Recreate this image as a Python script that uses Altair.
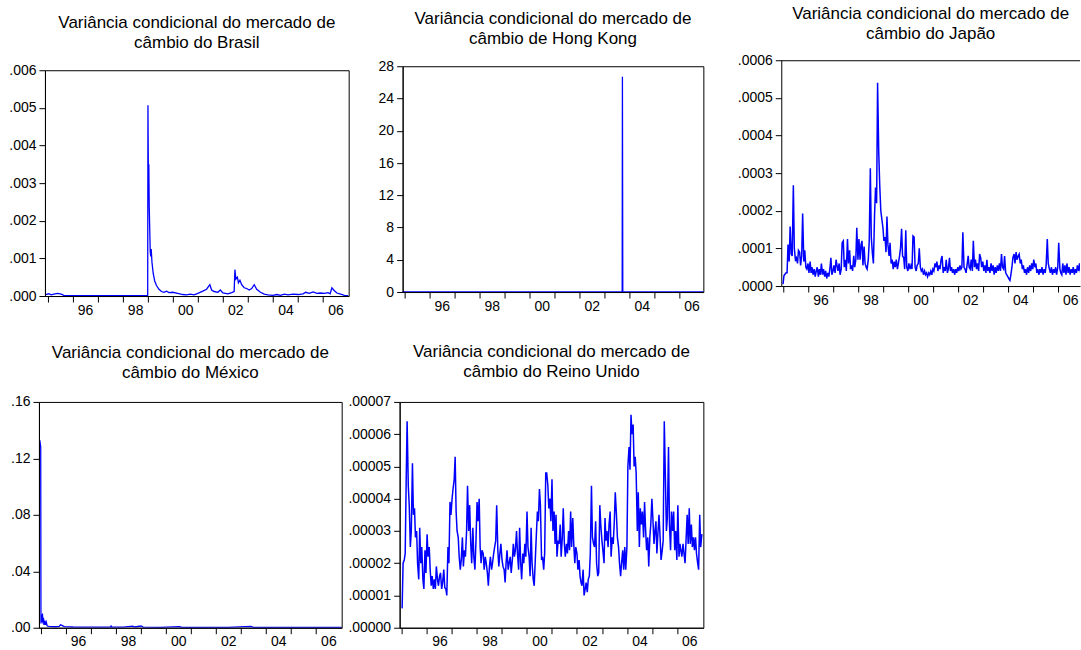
import altair as alt
import pandas as pd

FONT = "Liberation Sans"
BLUE = "#0000ff"
TITLE_HEAD = "Variância condicional do mercado de"

# ---- Brasil: irregular time points (decimal years) ----
BR_YEARS = [1994.92, 1995.05, 1995.15, 1995.25, 1995.40, 1995.55, 1995.65, 1995.80,
            1996.50, 1997.50, 1998.50, 1999.00, 1999.01, 1999.03, 1999.045, 1999.06,
            1999.08, 1999.10, 1999.12, 1999.14, 1999.17, 1999.22, 1999.28, 1999.35,
            1999.45, 1999.55, 1999.65, 1999.75, 1999.85, 2000.00, 2000.20, 2000.40,
            2000.55, 2000.70, 2000.85, 2001.00, 2001.20, 2001.35, 2001.48, 2001.55,
            2001.65, 2001.80, 2001.90, 2002.00, 2002.20, 2002.35, 2002.45, 2002.48,
            2002.52, 2002.58, 2002.62, 2002.68, 2002.75, 2002.85, 2002.95, 2003.05,
            2003.15, 2003.25, 2003.35, 2003.50, 2003.65, 2003.80, 2004.00, 2004.15,
            2004.30, 2004.45, 2004.60, 2004.80, 2005.00, 2005.20, 2005.30, 2005.45,
            2005.60, 2005.75, 2005.90, 2006.05, 2006.20, 2006.28, 2006.35, 2006.45,
            2006.55, 2006.70, 2006.85, 2007.00]
BR_VAR = [0.00004, 0.00006, 0.00003, 0.00005, 0.00007, 0.00005, 0.00002, 0.00001,
          0.00001, 0.00001, 0.00001, 0.00001, 0.00507, 0.00290, 0.00350, 0.00240,
          0.00180, 0.00120, 0.00105, 0.00125, 0.00090, 0.00060, 0.00040, 0.00028,
          0.00018, 0.00012, 0.00010, 0.00013, 0.00009, 0.00010, 0.00007, 0.00004,
          0.00003, 0.00005, 0.00003, 0.00007, 0.00013, 0.00018, 0.00030, 0.00016,
          0.00012, 0.00010, 0.00016, 0.00008, 0.00006, 0.00009, 0.00012, 0.00070,
          0.00045, 0.00050, 0.00035, 0.00042, 0.00030, 0.00022, 0.00020, 0.00016,
          0.00020, 0.00030, 0.00018, 0.00010, 0.00005, 0.00003, 0.00002, 0.00004,
          0.00002, 0.00005, 0.00003, 0.00005, 0.00004, 0.00006, 0.00010, 0.00007,
          0.00011, 0.00007, 0.00008, 0.00007, 0.00009, 0.00006, 0.00022, 0.00014,
          0.00008, 0.00005, 0.00002, 0.00001]

# ---- Hong Kong ----
HK_YEARS = [1994.93, 1996.0, 1998.0, 2000.0, 2002.0, 2003.72, 2003.73, 2003.745, 2005.0, 2006.97]
HK_VAR = [0.02, 0.01, 0.01, 0.01, 0.01, 0.01, 26.7, 0.02, 0.01, 0.01]

# ---- Japão: semi-monthly observations, Jan 1995 .. Jan 2007, in units of 1e-4 ----
JP_VAR_1E4 = [
    0.05, 0.28, 0.32, 0.35, 0.35, 1.1, 0.65, 1.58, 0.85, 0.8, 2.68, 1.0, 0.7, 0.75, 0.6, 0.95, 0.9, 0.55, 0.8, 1.93, 0.65, 0.95, 0.5, 0.45,
    0.6, 0.35, 0.65, 0.35, 0.5, 0.3, 0.45, 0.25, 0.4, 0.5, 0.25, 0.45, 0.3, 0.6, 0.3, 0.45, 0.25, 0.4, 0.2, 0.35, 0.25, 0.45, 0.75, 0.3,
    0.4, 0.55, 0.35, 0.7, 0.55, 0.4, 0.6, 0.3, 0.45, 1.15, 1.2, 0.5, 0.7, 0.4, 1.25, 0.6, 0.95, 0.45, 0.55, 0.4, 0.8, 0.5, 0.7, 1.55,
    0.7, 1.25, 0.7, 1.1, 1.2, 0.55, 1.05, 0.6, 0.5, 0.45, 0.7, 1.2, 3.13, 1.3, 0.85, 0.6, 1.9, 2.62, 2.2, 5.4, 3.55, 2.7, 2.0, 1.8,
    1.55, 1.2, 1.3, 0.9, 1.85, 1.1, 0.8, 1.15, 0.6, 0.7, 0.45, 0.65, 0.5, 0.7, 0.45, 0.6, 0.8, 1.0, 1.52, 0.8, 0.75, 0.45, 1.48, 0.5,
    0.4, 0.6, 0.45, 0.55, 0.45, 1.33, 1.3, 0.5, 0.4, 0.55, 0.6, 1.0, 0.5, 0.4, 0.45, 0.3, 0.4, 0.3, 0.35, 0.25, 0.35, 0.3, 0.4, 0.3,
    0.45, 0.4, 0.6, 0.5, 0.65, 0.4, 0.55, 0.45, 0.7, 0.8, 0.35, 0.5, 0.4, 0.7, 0.35, 0.45, 0.75, 0.4, 0.5, 0.35, 0.45, 0.3, 0.45, 0.35,
    0.5, 0.4, 0.55, 0.45, 0.5, 1.43, 0.5, 0.45, 0.35, 0.55, 0.8, 0.5, 0.45, 0.7, 0.4, 1.2, 0.5, 0.7, 0.45, 0.6, 0.4, 0.85, 0.75, 0.5,
    0.65, 0.4, 0.55, 0.35, 0.7, 0.4, 0.5, 0.35, 0.6, 0.4, 0.55, 0.3, 0.5, 0.35, 0.55, 0.4, 0.6, 0.4, 0.85, 0.5, 0.45, 0.8, 0.35, 0.3,
    0.25, 0.2, 0.15, 0.3, 0.5, 0.75, 0.85, 0.6, 0.9, 0.7, 0.8, 0.85, 0.6, 0.7, 0.45, 0.55, 0.35, 0.45, 0.3, 0.5, 0.35, 0.55, 0.4, 0.6,
    0.45, 0.7, 0.5, 0.6, 0.35, 0.45, 0.3, 0.45, 0.35, 0.5, 0.3, 0.45, 0.35, 0.55, 1.25, 0.6, 0.45, 0.35, 0.5, 0.3, 0.45, 0.35, 0.5, 0.3,
    0.5, 1.15, 0.45, 0.35, 0.3, 0.6, 0.35, 0.55, 0.3, 0.6, 0.35, 0.5, 0.3, 0.45, 0.35, 0.5, 0.3, 0.45, 0.35, 0.55, 0.4, 0.6, 0.35, 0.5,
    0.45,
]

# ---- México ----
MX_YEARS = [1994.94, 1994.98, 1995.01, 1995.02, 1995.04, 1995.06, 1995.08, 1995.10, 1995.12,
            1995.14, 1995.17, 1995.20, 1995.23, 1995.27, 1995.35, 1995.45, 1995.60, 1995.75,
            1995.80, 1995.86, 1995.95, 1996.30, 1996.80, 1997.40, 1997.80, 1997.82, 1997.85,
            1998.30, 1998.69, 1998.75, 1999.02, 1999.10, 1999.80, 2000.55, 2000.65, 2001.50,
            2002.50, 2003.41, 2003.50, 2004.50, 2005.50, 2006.50, 2007.03]
MX_VAR = [0.131, 0.132, 0.128, 0.003, 0.009, 0.004, 0.010, 0.003, 0.007,
          0.002, 0.005, 0.002, 0.004, 0.0012, 0.0010, 0.0008, 0.0007, 0.0009,
          0.0020, 0.0016, 0.0008, 0.0005, 0.0004, 0.0004, 0.0005, 0.0012, 0.0005,
          0.0004, 0.0011, 0.0005, 0.0012, 0.0004, 0.0003, 0.0008, 0.0003, 0.0003,
          0.0003, 0.0009, 0.0003, 0.0003, 0.0002, 0.0002, 0.0002]

# ---- Reino Unido: semi-monthly observations, Jan 1995 .. Jan 2007, in units of 1e-5 ----
UK_VAR_1E5 = [
    0.6, 2.0, 2.1, 2.3, 4.5, 6.4, 4.4, 3.8, 2.5, 3.0, 5.1, 3.5, 3.7, 2.8, 3.0, 2.0, 1.5, 3.1, 2.0, 2.5, 1.5, 1.2, 2.4, 1.7,
    2.9, 2.2, 2.5, 1.8, 1.3, 1.6, 1.2, 1.5, 1.2, 1.9, 1.5, 1.3, 1.6, 1.7, 1.2, 1.4, 1.8, 1.25, 1.2, 1.0, 2.5, 2.0, 3.9, 3.5,
    4.0, 4.3, 4.6, 5.3, 3.6, 3.0, 2.8, 2.2, 1.8, 2.1, 2.8, 1.9, 2.4, 2.2, 3.0, 4.4, 3.0, 3.8, 2.6, 2.0, 3.1, 2.2, 1.8, 2.6,
    3.9, 3.3, 4.0, 2.5, 2.0, 2.4, 2.3, 1.8, 2.2, 2.0, 1.7, 1.3, 1.9, 2.2, 1.8, 2.0, 2.3, 2.5, 2.7, 3.8, 2.4, 1.9, 2.3, 2.6,
    2.1, 1.9, 1.8, 1.4, 2.0, 2.4, 1.8, 2.0, 2.2, 1.7, 2.1, 2.6, 2.2, 2.4, 3.0, 2.3, 1.8, 3.1, 2.0, 1.5, 2.3, 2.0, 2.6, 2.2,
    3.6, 2.5, 2.2, 1.6, 3.1, 2.0, 1.5, 1.3, 2.1, 2.8, 3.6, 3.3, 4.3, 3.8, 2.1, 2.2, 1.8, 2.3, 4.8, 4.8, 4.4, 3.7, 4.0, 3.3,
    4.6, 3.0, 3.6, 2.6, 3.5, 2.2, 2.7, 2.6, 3.2, 2.2, 2.8, 3.7, 2.6, 2.2, 2.6, 2.3, 3.0, 2.4, 3.6, 2.5, 3.4, 2.6, 2.0, 2.5,
    2.3, 1.8, 2.1, 1.6, 1.4, 1.3, 1.8, 1.0, 1.2, 1.4, 1.1, 1.5, 1.6, 2.3, 4.4, 2.8, 2.6, 2.5, 3.3, 2.0, 1.6, 1.7, 3.8, 3.2,
    2.7, 2.4, 2.0, 3.4, 2.7, 3.0, 2.5, 3.2, 3.6, 2.2, 2.8, 2.6, 3.3, 4.2, 3.5, 2.8, 2.5, 2.0, 1.6, 2.0, 2.4, 1.8, 2.5, 1.8,
    2.5, 5.0, 5.6, 4.9, 6.6, 6.0, 6.3, 5.0, 5.3, 4.8, 3.0, 4.2, 2.5, 3.7, 3.2, 3.6, 2.8, 3.9, 3.0, 2.4, 2.8, 1.9, 2.8, 3.2,
    4.0, 3.4, 2.6, 3.0, 3.3, 2.3, 3.0, 3.5, 2.8, 2.1, 2.4, 2.7, 6.4, 4.9, 3.0, 3.4, 5.6, 3.2, 2.4, 3.6, 3.0, 3.6, 2.4, 3.0,
    2.1, 3.8, 2.2, 2.6, 2.4, 2.2, 2.6, 2.3, 2.0, 2.7, 3.5, 2.6, 3.7, 2.6, 3.2, 2.5, 2.8, 2.4, 2.8, 2.3, 2.0, 1.8, 3.5, 2.5,
    2.9,
]

YEAR_TICKS = list(range(1995, 2007))


def semi_monthly_years(n):
    dates = pd.date_range("1995-01-01", periods=n, freq="SMS")
    return (dates.year + (dates.dayofyear - 1) / 365.25).tolist()


def panel(years, values, country, x_domain, y_values, y_fmt, box, plot, title_offset,
          title_dx=0.0, right_edge=True, stroke=1.3):
    """box = (width, height) of the cell; plot = (left, right, top, bottom) of the frame inside it."""
    width, height = box
    left, right, top, bottom = plot
    y_max = y_values[-1]
    df = pd.DataFrame({"ano": years, "variancia": values})

    x_scale = alt.Scale(domain=x_domain, range=[left, right], nice=False, zero=False)
    y_scale = alt.Scale(domain=[0, y_max], range=[bottom, top], nice=False)
    x_axis = alt.Axis(
        values=YEAR_TICKS,
        labelExpr="datum.value % 2 == 0 ? substring(format(datum.value, 'd'), 2, 4) : ''",
        labelOffset=12.5, labelFlush=False, labelOverlap=False,
        offset=bottom - height,
        tickSize=6, tickColor="black", tickWidth=1,
        domainColor="black", domainWidth=1,
        labelColor="black", labelFont=FONT, labelFontSize=14, labelPadding=1,
        grid=False, title=None,
    )
    y_axis = alt.Axis(
        values=y_values,
        labelExpr=f"replace(format(datum.value, '{y_fmt}'), '0.', '.')",
        labelFlush=False, labelOverlap=False,
        offset=-left,
        tickSize=6, tickColor="black", tickWidth=1,
        domainColor="black", domainWidth=1,
        labelColor="black", labelFont=FONT, labelFontSize=14, labelPadding=3,
        grid=False, title=None,
    )

    line = alt.Chart(df).mark_line(color=BLUE, strokeWidth=stroke, clip=True).encode(
        x=alt.X("ano:Q", scale=x_scale, axis=x_axis),
        y=alt.Y("variancia:Q", scale=y_scale, axis=y_axis),
    )

    edge = pd.DataFrame({"v": [0]})
    if right_edge:
        frame = alt.Chart(edge).mark_rect(
            filled=False, stroke="black", strokeWidth=1,
            xOffset=0.5, x2Offset=0.5, yOffset=0.5, y2Offset=0.5,
        ).encode(
            x=alt.X(datum=x_domain[0], type="quantitative", scale=x_scale, axis=x_axis),
            x2=alt.X2(datum=x_domain[1]),
            y=alt.Y(datum=0, type="quantitative", scale=y_scale, axis=y_axis),
            y2=alt.Y2(datum=y_max),
        )
    else:
        frame = alt.Chart(edge).mark_rule(color="black", strokeWidth=1, yOffset=0.5).encode(
            x=alt.X(datum=x_domain[0], type="quantitative", scale=x_scale, axis=x_axis),
            x2=alt.X2(datum=x_domain[1]),
            y=alt.Y(datum=y_max, type="quantitative", scale=y_scale, axis=y_axis),
        )

    return alt.layer(line, frame).properties(
        width=width, height=height,
        title=alt.TitleParams(
            text=[TITLE_HEAD, "câmbio " + country],
            font=FONT, fontSize=17, fontWeight="normal", color="black",
            anchor="middle", frame="group", offset=title_offset, dx=title_dx,
            lineHeight=20, baseline="bottom",
        ),
    )


brasil = panel(BR_YEARS, BR_VAR, "do Brasil", [1994.90, 2007.02],
               [0.0, 0.001, 0.002, 0.003, 0.004, 0.005, 0.006], ".3f",
               box=(311, 236), plot=(6, 310, 10, 236), title_offset=-9, title_dx=2.5)

hong_kong = panel(HK_YEARS, HK_VAR, "de Hong Kong", [1994.93, 2006.97],
                  [0, 4, 8, 12, 16, 20, 24, 28], "d",
                  box=(332, 236), plot=(3, 304, 6, 232), title_offset=-6, title_dx=-12.5)

JP_W = 299
japao = panel(semi_monthly_years(len(JP_VAR_1E4)), [v * 1e-4 for v in JP_VAR_1E4], "do Japão",
              [1994.93, 1994.93 + JP_W / 25.0],
              [0.0, 0.0001, 0.0002, 0.0003, 0.0004, 0.0005, 0.0006], ".4f",
              box=(JP_W, 236), plot=(0, JP_W, 0, 226), title_offset=-7, right_edge=False,
              stroke=1.5)

mexico = panel(MX_YEARS, MX_VAR, "do México", [1994.94, 2007.03],
               [0.0, 0.04, 0.08, 0.12, 0.16], ".2f",
               box=(303, 226), plot=(0, 303, 0, 226), title_offset=-4)

reino_unido = panel(semi_monthly_years(len(UK_VAR_1E5)), [v * 1e-5 for v in UK_VAR_1E5],
                    "do Reino Unido", [1994.90, 2007.06],
                    [0.0, 0.00001, 0.00002, 0.00003, 0.00004, 0.00005, 0.00006, 0.00007], ".5f",
                    box=(304, 226), plot=(0, 304, 0, 226), title_offset=-3, stroke=1.5)

chart = alt.concat(
    brasil, hong_kong, japao, mexico, reino_unido,
    columns=3, spacing=alt.RowColnumber(row=106, column=50), bounds="flush", align="each",
).properties(
    padding={"left": 8, "top": 5, "right": 0, "bottom": 0},
    background="white",
).configure(font=FONT).configure_view(stroke=None).configure_axis(labelOverlap=False)

chart.save("out.html", embed_options={"renderer": "svg", "actions": False})
